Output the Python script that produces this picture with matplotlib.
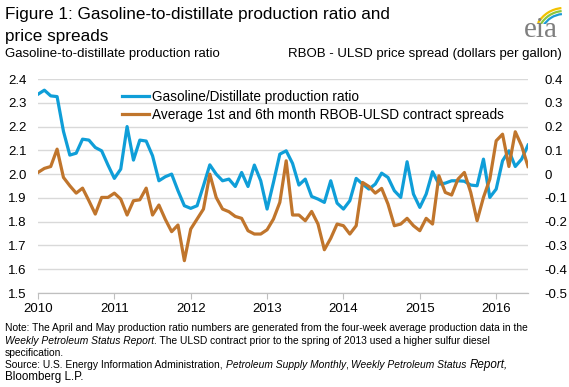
import numpy as np
import matplotlib
matplotlib.use("Agg")
import matplotlib.pyplot as plt
from matplotlib.patches import Arc

plt.rcParams['font.family'] = ['Liberation Sans', 'DejaVu Sans']

# monthly values, Jan 2010 onwards
ratio = [2.336, 2.353, 2.329, 2.326, 2.18, 2.08, 2.088, 2.147, 2.143, 2.112, 2.098, 2.038,
         1.982, 2.021, 2.2, 2.059, 2.143, 2.139, 2.077, 1.972, 1.989, 2.0, 1.93, 1.867,
         1.856, 1.867, 1.951, 2.039, 2.0, 1.972, 1.979, 1.948, 2.007, 1.948, 2.038, 1.972,
         1.853, 1.965, 2.084, 2.098, 2.045, 1.954, 1.979, 1.906, 1.895, 1.881, 1.972, 1.878,
         1.853, 1.888, 1.982, 1.958, 1.937, 1.958, 2.004, 1.986, 1.93, 1.902, 2.052, 1.916,
         1.86, 1.916, 2.01, 1.958, 1.962, 1.972, 1.972, 1.97, 1.954, 1.951, 2.063, 1.902,
         1.937, 2.056, 2.098, 2.032, 2.063, 2.122]
spread = [0.007, 0.024, 0.032, 0.105, -0.014, -0.049, -0.08, -0.059, -0.112, -0.168, -0.098, -0.098,
          -0.08, -0.105, -0.172, -0.112, -0.108, -0.059, -0.172, -0.13, -0.19, -0.242, -0.214, -0.364,
          -0.231, -0.189, -0.147, 0.0, -0.098, -0.147, -0.158, -0.178, -0.186, -0.238, -0.252, -0.252,
          -0.234, -0.189, -0.119, 0.056, -0.172, -0.172, -0.196, -0.157, -0.21, -0.318, -0.27, -0.21,
          -0.217, -0.252, -0.217, -0.035, -0.052, -0.08, -0.06, -0.126, -0.217, -0.21, -0.186, -0.217,
          -0.238, -0.186, -0.21, -0.007, -0.077, -0.088, -0.021, 0.007, -0.077, -0.196, -0.098, -0.021,
          0.14, 0.168, 0.032, 0.178, 0.119, 0.032]
years = [2010, 2011, 2012, 2013, 2014, 2015, 2016]
left_ticks = [1.5, 1.6, 1.7, 1.8, 1.9, 2.0, 2.1, 2.2, 2.3, 2.4]
right_ticks = [-0.5, -0.4, -0.3, -0.2, -0.1, 0.0, 0.1, 0.2, 0.3, 0.4]

t = 2010 + np.arange(len(ratio)) / 12.0

BLUE = '#0f9ed8'
BROWN = '#c0752c'
GRID = '#d9d9d9'

fig = plt.figure(figsize=(5.69, 3.87), dpi=100)
W, H = 569, 387
ax = fig.add_axes([38 / W, 1 - 293 / H, (528 - 38) / W, (293 - 79) / H])
ax2 = ax.twinx()

l1, = ax.plot(t, ratio, color=BLUE, lw=2.3, solid_joinstyle='round')
l2, = ax2.plot(t, spread, color=BROWN, lw=2.3, solid_joinstyle='round')

ax.set_xlim(t[0], t[-1])
ax.set_ylim(1.5, 2.4)
ax2.set_ylim(-0.5, 0.4)
ax.set_yticks(left_ticks)
ax.set_yticklabels([f"{v:.1f}" for v in left_ticks])
ax2.set_yticks(right_ticks)
ax2.set_yticklabels(["0" if abs(v) < 1e-9 else f"{v:.1f}" for v in right_ticks])
ax.set_xticks(years)
ax.set_xticklabels([str(y) for y in years])

ax.grid(axis='y', color=GRID, lw=1)
ax.set_axisbelow(True)
for a in (ax, ax2):
    for s in ('top', 'right', 'left'):
        a.spines[s].set_visible(False)
    a.spines['bottom'].set_color('#bfbfbf')
ax.tick_params(axis='y', length=0, labelsize=9.5, pad=8)
ax2.tick_params(axis='y', length=0, labelsize=9.5, pad=12)
ax.tick_params(axis='x', length=4, color='#bfbfbf', labelsize=9.5, pad=3)

ax2.legend([l1, l2], ["Gasoline/Distillate production ratio",
                      "Average 1st and 6th month RBOB-ULSD contract spreads"],
           loc='upper left', bbox_to_anchor=(0.172, 0.95), frameon=False,
           fontsize=9.8, handlelength=1.95, handletextpad=0.25, labelspacing=0.3,
           borderpad=0, borderaxespad=0)

fig.text(5 / W, 1 - 14 / H, "Figure 1: Gasoline-to-distillate production ratio and",
         fontsize=12.3, va='center', ha='left')
fig.text(5 / W, 1 - 36 / H, "price spreads", fontsize=12.3, va='center', ha='left')
fig.text(5 / W, 1 - 54 / H, "Gasoline-to-distillate production ratio",
         fontsize=9.5, va='center', ha='left')
fig.text(562 / W, 1 - 54 / H, "RBOB - ULSD price spread (dollars per gallon)",
         fontsize=9.5, va='center', ha='right')

# logo
fig.text(541 / W, 1 - 30 / H, "eia", fontsize=21, color='#7f7f7f', family='Liberation Serif',
         ha='center', va='center')
lax = fig.add_axes([520 / W, 1 - 24 / H, 46 / W, 22 / H])
lax.set_xlim(0, 46)
lax.set_ylim(0, 22)
lax.axis('off')
for r, c, w in [(30, '#f2c200', 1.6), (27, '#8cc63f', 1.6), (24, '#1b9ad6', 1.6)]:
    lax.add_patch(Arc((44, -14), 2 * r, 2 * r, theta1=95, theta2=150, color=c, lw=w))

# notes
renderer = fig.canvas.get_renderer()


def rich_line(x, y, parts):
    for txt, style, size in parts:
        tt = fig.text(x / W, 1 - y / H, txt, fontsize=size, style=style,
                      ha='left', va='baseline')
        bb = tt.get_window_extent(renderer=renderer)
        x = bb.x1 * W / fig.bbox.width


rich_line(5, 331, [("Note: The April and May production ratio numbers are generated from the four-week average production data in the", 'normal', 7.4)])
rich_line(5, 344, [("Weekly Petroleum Status Report", 'italic', 7.4),
                   (". The ULSD contract prior to the spring of 2013 used a higher sulfur diesel", 'normal', 7.4)])
rich_line(5, 356, [("specification.", 'normal', 7.4)])
rich_line(5, 368, [("Source: U.S. Energy Information Administration, ", 'normal', 7.4),
                   ("Petroleum Supply Monthly", 'italic', 7.4),
                   (", ", 'normal', 7.4),
                   ("Weekly Petroleum Status ", 'italic', 7.4),
                   ("Report,", 'italic', 8.4)])
rich_line(5, 380, [("Bloomberg L.P.", 'normal', 8.4)])

fig.savefig("out.png", dpi=100)
